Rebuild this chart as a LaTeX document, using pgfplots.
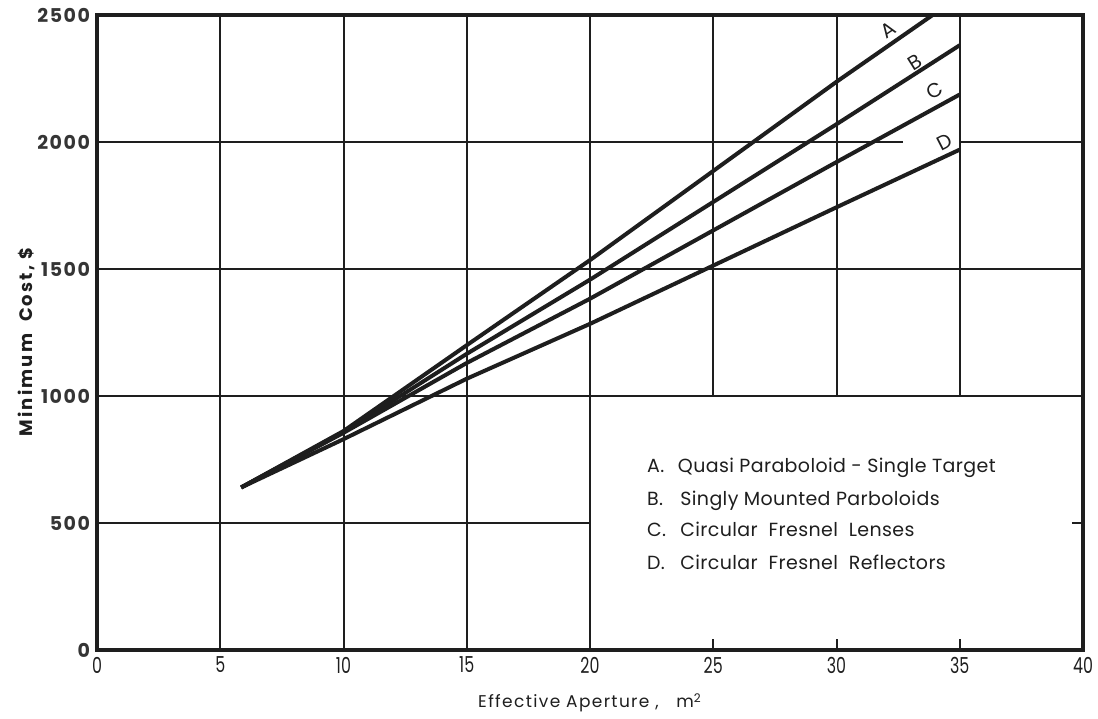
\documentclass[border=0pt]{standalone}
\usepackage{fontspec}
\setmainfont{Poppins}
\usepackage{graphicx}
\usepackage{pgfplots}
\pgfplotsset{compat=1.18}
\definecolor{ink}{HTML}{1E1E1E}
\begin{document}
\begin{tikzpicture}
\begin{axis}[name=ax, width=493pt, height=317.5pt, scale only axis,
  xmin=0, xmax=40, ymin=0, ymax=2500,
  xtick={0,5,...,40}, ytick={0,500,...,2500},
  major tick length=0pt,
  axis line style={line width=1.6pt, ink},
  /pgf/number format/assume math mode=true,
  /pgf/number format/1000 sep={},
  yticklabel style={font=\fontsize{9.5}{12}\selectfont\bfseries\addfontfeatures{LetterSpace=8}, color=ink!90},
  xticklabel style={font=\fontsize{11}{13}\selectfont, color=ink},
  xticklabel={\scalebox{0.72}[1]{\pgfmathprintnumber{\tick}}},
  ylabel={Minimum\ \ Cost, \$},
  ylabel style={at={(axis description cs:-0.072,0.485)}, anchor=center, font=\fontsize{9}{11}\selectfont\bfseries\addfontfeatures{LetterSpace=12}, color=ink},
  xlabel={Effective Aperture ,\ \ \ m\textsuperscript{2}},
  xlabel style={at={(axis description cs:0.5,0)}, yshift=-26.5pt, anchor=center, font=\fontsize{8.5}{11}\selectfont\addfontfeatures{LetterSpace=8}, color=ink},
]
% grid
\draw[ink, line width=1pt] (5,0) -- (5,2500) (10,0) -- (10,2500) (15,0) -- (15,2500) (20,0) -- (20,2500);
\draw[ink, line width=1pt] (25,1000) -- (25,2500) (30,1000) -- (30,2500) (35,1000) -- (35,2500);
\draw[ink, line width=1pt] (25,0) -- (25,44) (30,0) -- (30,44) (35,0) -- (35,44);
\draw[ink, line width=1pt] (0,500) -- (20,500) (39.55,500) -- (40,500);
\draw[ink, line width=1pt] (0,1000) -- (40,1000) (0,1500) -- (40,1500);
\draw[ink, line width=1pt] (0,2000) -- (32.7,2000) (35,2000) -- (40,2000);
% curves
\addplot[ink, line width=2pt] coordinates {(5.85,640) (10,862) (15,1200) (20,1535) (30,2237) (33.9,2500)};
\addplot[ink, line width=2pt] coordinates {(5.85,640) (10,858) (15,1166) (20,1458) (30,2070) (35,2381)};
\addplot[ink, line width=2pt] coordinates {(5.85,640) (10,855) (15,1130) (20,1383) (30,1921) (35,2187)};
\addplot[ink, line width=2pt] coordinates {(5.85,640) (10,830) (15,1068) (20,1284) (30,1743) (35,1970)};
% curve letters
\node[rotate=34, text=ink, font=\fontsize{10}{12}\selectfont] at (32.1,2440) {A};
\node[rotate=32, text=ink, font=\fontsize{10}{12}\selectfont] at (33.2,2314) {B};
\node[rotate=30, text=ink, font=\fontsize{10}{12}\selectfont] at (34.0,2203) {C};
\node[rotate=27, text=ink, font=\fontsize{10}{12}\selectfont] at (34.4,1998) {D};
% key
\begin{scope}[every node/.style={anchor=base west, inner sep=0pt, text=ink, font=\fontsize{9.5}{11}\selectfont\addfontfeatures{LetterSpace=2}}]
\node at (22.3,700) {A.};
\node at (23.55,700) {Quasi Paraboloid - Single Target};
\node at (22.3,570) {B.};
\node at (23.65,570) {Singly Mounted Parboloids};
\node at (22.3,447) {C.};
\node at (23.65,447) {Circular\ \ Fresnel\ \ Lenses};
\node at (22.3,316) {D.};
\node at (23.65,316) {Circular\ \ Fresnel\ \ Reflectors};
\end{scope}
\end{axis}
\pgfresetboundingbox
\path ([xshift=-48.5pt,yshift=-34pt]ax.south west) rectangle ([xshift=7.5pt,yshift=7.5pt]ax.north east);
\end{tikzpicture}
\end{document}
